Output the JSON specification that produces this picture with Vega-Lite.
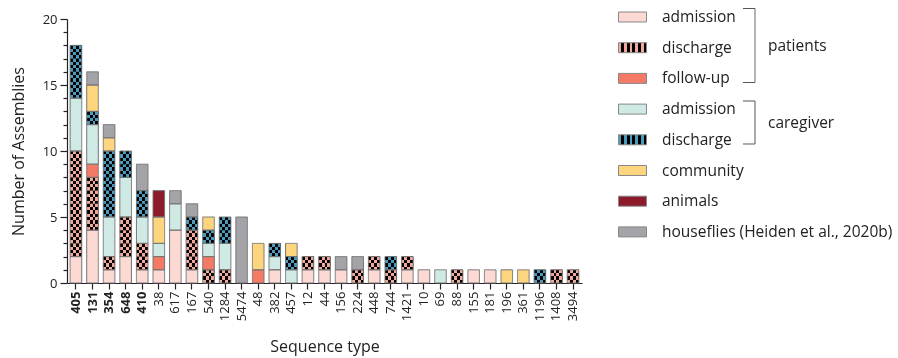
{
"$schema": "https://vega.github.io/schema/vega-lite/v6.json",
"width": 515,
"height": 264,
"autosize": {"type": "none"},
"padding": {"left": 67, "top": 19, "right": 316, "bottom": 75},
"config": {"font": "Open Sans", "view": {"stroke": null}, "axis": {"grid": false}},
"datasets": {
"categories": [
{"src":"pa","ord":1,"grp":"patients"},
{"src":"pd","ord":2,"grp":"patients"},
{"src":"pf","ord":3,"grp":"patients"},
{"src":"ca","ord":4,"grp":"caregiver"},
{"src":"cd","ord":5,"grp":"caregiver"},
{"src":"co","ord":6,"grp":"other"},
{"src":"an","ord":7,"grp":"other"},
{"src":"ho","ord":8,"grp":"other"}
],
"assemblies": [
{"st":"405","src":"pa"},{"st":"405","src":"pa"},
{"st":"405","src":"pd"},{"st":"405","src":"pd"},{"st":"405","src":"pd"},{"st":"405","src":"pd"},{"st":"405","src":"pd"},{"st":"405","src":"pd"},{"st":"405","src":"pd"},{"st":"405","src":"pd"},
{"st":"405","src":"ca"},{"st":"405","src":"ca"},{"st":"405","src":"ca"},{"st":"405","src":"ca"},
{"st":"405","src":"cd"},{"st":"405","src":"cd"},{"st":"405","src":"cd"},{"st":"405","src":"cd"},
{"st":"131","src":"pa"},{"st":"131","src":"pa"},{"st":"131","src":"pa"},{"st":"131","src":"pa"},
{"st":"131","src":"pd"},{"st":"131","src":"pd"},{"st":"131","src":"pd"},{"st":"131","src":"pd"},
{"st":"131","src":"pf"},
{"st":"131","src":"ca"},{"st":"131","src":"ca"},{"st":"131","src":"ca"},
{"st":"131","src":"cd"},
{"st":"131","src":"co"},{"st":"131","src":"co"},
{"st":"131","src":"ho"},
{"st":"354","src":"pa"},
{"st":"354","src":"pd"},
{"st":"354","src":"ca"},{"st":"354","src":"ca"},{"st":"354","src":"ca"},
{"st":"354","src":"cd"},{"st":"354","src":"cd"},{"st":"354","src":"cd"},{"st":"354","src":"cd"},{"st":"354","src":"cd"},
{"st":"354","src":"co"},
{"st":"354","src":"ho"},
{"st":"648","src":"pa"},{"st":"648","src":"pa"},
{"st":"648","src":"pd"},{"st":"648","src":"pd"},{"st":"648","src":"pd"},
{"st":"648","src":"ca"},{"st":"648","src":"ca"},{"st":"648","src":"ca"},
{"st":"648","src":"cd"},{"st":"648","src":"cd"},
{"st":"410","src":"pa"},
{"st":"410","src":"pd"},{"st":"410","src":"pd"},
{"st":"410","src":"ca"},{"st":"410","src":"ca"},
{"st":"410","src":"cd"},{"st":"410","src":"cd"},
{"st":"410","src":"ho"},{"st":"410","src":"ho"},
{"st":"38","src":"pa"},
{"st":"38","src":"pf"},
{"st":"38","src":"ca"},
{"st":"38","src":"co"},{"st":"38","src":"co"},
{"st":"38","src":"an"},{"st":"38","src":"an"},
{"st":"617","src":"pa"},{"st":"617","src":"pa"},{"st":"617","src":"pa"},{"st":"617","src":"pa"},
{"st":"617","src":"ca"},{"st":"617","src":"ca"},
{"st":"617","src":"ho"},
{"st":"167","src":"pa"},
{"st":"167","src":"pd"},{"st":"167","src":"pd"},{"st":"167","src":"pd"},
{"st":"167","src":"cd"},
{"st":"167","src":"ho"},
{"st":"540","src":"pd"},
{"st":"540","src":"pf"},
{"st":"540","src":"ca"},
{"st":"540","src":"cd"},
{"st":"540","src":"co"},
{"st":"1284","src":"pd"},
{"st":"1284","src":"ca"},{"st":"1284","src":"ca"},
{"st":"1284","src":"cd"},{"st":"1284","src":"cd"},
{"st":"5474","src":"ho"},{"st":"5474","src":"ho"},{"st":"5474","src":"ho"},{"st":"5474","src":"ho"},{"st":"5474","src":"ho"},
{"st":"48","src":"pf"},
{"st":"48","src":"co"},{"st":"48","src":"co"},
{"st":"382","src":"pa"},
{"st":"382","src":"ca"},
{"st":"382","src":"cd"},
{"st":"457","src":"ca"},
{"st":"457","src":"cd"},
{"st":"457","src":"co"},
{"st":"12","src":"pa"},{"st":"12","src":"pd"},
{"st":"44","src":"pa"},{"st":"44","src":"pd"},
{"st":"156","src":"pa"},{"st":"156","src":"ho"},
{"st":"224","src":"pd"},{"st":"224","src":"ho"},
{"st":"448","src":"pa"},{"st":"448","src":"pd"},
{"st":"744","src":"pd"},{"st":"744","src":"cd"},
{"st":"1421","src":"pa"},{"st":"1421","src":"pd"},
{"st":"10","src":"pa"},
{"st":"69","src":"ca"},
{"st":"88","src":"pd"},
{"st":"155","src":"pa"},
{"st":"181","src":"pa"},
{"st":"196","src":"co"},
{"st":"361","src":"co"},
{"st":"1196","src":"cd"},
{"st":"1408","src":"pd"},
{"st":"3494","src":"pd"}
]
},
"data": {"name": "assemblies"},
"transform": [
{"lookup": "src", "from": {"data": {"name": "categories"}, "key": "src", "fields": ["ord", "grp"]}},
{"window": [{"op": "row_number", "as": "id"}]}
],
"encoding": {
"x": {"field": "st", "type": "nominal",
"sort": ["405","131","354","648","410","38","617","167","540","1284","5474","48","382","457","12","44","156","224","448","744","1421","10","69","88","155","181","196","361","1196","1408","3494"],
"scale": {"paddingInner": 0.3, "paddingOuter": 0.19},
"axis": {"title": "Sequence type", "labelAngle": -90, "labelFontSize": 13,
"labelFontWeight": {"condition": {"test": "indexof(['405','131','354','648','410'], datum.value) >= 0", "value": "bold"}, "value": "normal"},
"tickSize": 6, "labelPadding": 2, "titleFontSize": 16, "titleFontWeight": "normal", "titlePadding": 18,
"domainColor": "#222", "tickColor": "#222", "labelColor": "#222", "titleColor": "#222", "domainWidth": 1.2, "tickWidth": 1.2}},
"y": {"aggregate": "count", "type": "quantitative", "scale": {"domain": [0, 20]},
"axis": {"title": "Number of Assemblies", "values": [0,1,2,3,4,5,6,7,8,9,10,11,12,13,14,15,16,17,18,19,20],
"labelExpr": "datum.value % 5 === 0 ? datum.label : ''",
"tickSize": {"condition": {"test": "datum.value % 5 === 0", "value": 7}, "value": 4},
"labelFontSize": 13, "labelPadding": 3, "titleFontSize": 16, "titleFontWeight": "normal", "titlePadding": 16,
"domainColor": "#222", "tickColor": "#222", "labelColor": "#222", "titleColor": "#222", "domainWidth": 1.2, "tickWidth": 1.2}},
"order": {"field": "ord", "type": "quantitative"}
},
"layer": [
{
"mark": {"type": "bar", "strokeWidth": 0},
"encoding": {
"fill": {"field": "src", "type": "nominal",
"scale": {"domain": ["pa","pd","pf","ca","cd","co","an","ho"],
"range": ["#fdd9d3","#f2a99b","#f47a66","#cfe9e4","#4a9cbf","#fdd57f","#8c1b2c","#a3a3a8"]},
"legend": null},
"opacity": {"field": "ord", "type": "ordinal",
"scale": {"domain": [1,2,3,4,5,6,7,8], "range": [1,1,1,1,1,1,1,1]},
"legend": {"title": null, "orient": "none", "legendX": 551, "legendY": -16.5, "padding": 0,
"symbolType": "M-1,-0.357H1V0.357H-1Z", "symbolSize": 784, "symbolStrokeWidth": 1, "symbolStrokeColor": "#888",
"symbolFillColor": {"expr": "datum.value == 2 ? {gradient: 'linear', x1: 0, y1: 0, x2: 1, y2: 0, stops: [{offset: 0, color: '#f2a99b'}, {offset: 0.1, color: '#f2a99b'}, {offset: 0.1, color: '#000'}, {offset: 0.2, color: '#000'}, {offset: 0.2, color: '#f2a99b'}, {offset: 0.3, color: '#f2a99b'}, {offset: 0.3, color: '#000'}, {offset: 0.4, color: '#000'}, {offset: 0.4, color: '#f2a99b'}, {offset: 0.5, color: '#f2a99b'}, {offset: 0.5, color: '#000'}, {offset: 0.6, color: '#000'}, {offset: 0.6, color: '#f2a99b'}, {offset: 0.7, color: '#f2a99b'}, {offset: 0.7, color: '#000'}, {offset: 0.8, color: '#000'}, {offset: 0.8, color: '#f2a99b'}, {offset: 0.9, color: '#f2a99b'}, {offset: 0.9, color: '#000'}, {offset: 1, color: '#000'}]} : datum.value == 5 ? {gradient: 'linear', x1: 0, y1: 0, x2: 1, y2: 0, stops: [{offset: 0, color: '#4a9cbf'}, {offset: 0.1, color: '#4a9cbf'}, {offset: 0.1, color: '#000'}, {offset: 0.2, color: '#000'}, {offset: 0.2, color: '#4a9cbf'}, {offset: 0.3, color: '#4a9cbf'}, {offset: 0.3, color: '#000'}, {offset: 0.4, color: '#000'}, {offset: 0.4, color: '#4a9cbf'}, {offset: 0.5, color: '#4a9cbf'}, {offset: 0.5, color: '#000'}, {offset: 0.6, color: '#000'}, {offset: 0.6, color: '#4a9cbf'}, {offset: 0.7, color: '#4a9cbf'}, {offset: 0.7, color: '#000'}, {offset: 0.8, color: '#000'}, {offset: 0.8, color: '#4a9cbf'}, {offset: 0.9, color: '#4a9cbf'}, {offset: 0.9, color: '#000'}, {offset: 1, color: '#000'}]} : datum.value == 1 ? '#fdd9d3' : datum.value == 3 ? '#f47a66' : datum.value == 4 ? '#cfe9e4' : datum.value == 6 ? '#fdd57f' : datum.value == 7 ? '#8c1b2c' : '#a3a3a8'"},
"labelFontSize": 15.5, "labelOffset": 15, "rowPadding": 7.7, "labelColor": "#222", "labelLimit": 400,
"labelExpr": "datum.value == 1 || datum.value == 4 ? 'admission' : datum.value == 2 || datum.value == 5 ? 'discharge' : datum.value == 3 ? 'follow-up' : datum.value == 6 ? 'community' : datum.value == 7 ? 'animals' : 'houseflies (Heiden et al., 2020b)'"
}}
}
},
{
"mark": {"type": "bar", "strokeWidth": 0},
"encoding": {
"detail": [{"field": "id", "type": "nominal"}, {"field": "src", "type": "nominal"}],
"fill": {"condition": [
{"test": "datum.src === 'pd'", "value": {"gradient": "linear", "x1": 0, "y1": 0, "x2": 1, "y2": 0, "stops": [
{"offset":0,"color":"#f2a99b"},{"offset":0.25,"color":"#f2a99b"},{"offset":0.25,"color":"#000"},{"offset":0.5,"color":"#000"},
{"offset":0.5,"color":"#f2a99b"},{"offset":0.75,"color":"#f2a99b"},{"offset":0.75,"color":"#000"},{"offset":1,"color":"#000"}]}},
{"test": "datum.src === 'cd'", "value": {"gradient": "linear", "x1": 0, "y1": 0, "x2": 1, "y2": 0, "stops": [
{"offset":0,"color":"#4a9cbf"},{"offset":0.25,"color":"#4a9cbf"},{"offset":0.25,"color":"#000"},{"offset":0.5,"color":"#000"},
{"offset":0.5,"color":"#4a9cbf"},{"offset":0.75,"color":"#4a9cbf"},{"offset":0.75,"color":"#000"},{"offset":1,"color":"#000"}]}}
], "value": "transparent"}
}
},
{
"mark": {"type": "bar", "strokeWidth": 0, "blend": "difference"},
"encoding": {
"detail": [{"field": "id", "type": "nominal"}, {"field": "src", "type": "nominal"}],
"fill": {"condition": [
{"test": "datum.src === 'pd'", "value": {"gradient": "linear", "x1": 0, "y1": 0, "x2": 0, "y2": 1, "stops": [
{"offset":0,"color":"#f2a99b"},{"offset":0.25,"color":"#f2a99b"},{"offset":0.25,"color":"#000"},{"offset":0.5,"color":"#000"},
{"offset":0.5,"color":"#f2a99b"},{"offset":0.75,"color":"#f2a99b"},{"offset":0.75,"color":"#000"},{"offset":1,"color":"#000"}]}},
{"test": "datum.src === 'cd'", "value": {"gradient": "linear", "x1": 0, "y1": 0, "x2": 0, "y2": 1, "stops": [
{"offset":0,"color":"#4a9cbf"},{"offset":0.25,"color":"#4a9cbf"},{"offset":0.25,"color":"#000"},{"offset":0.5,"color":"#000"},
{"offset":0.5,"color":"#4a9cbf"},{"offset":0.75,"color":"#4a9cbf"},{"offset":0.75,"color":"#000"},{"offset":1,"color":"#000"}]}}
], "value": "transparent"}
}
},
{
"mark": {"type": "bar", "fill": "transparent", "stroke": "#747474", "strokeWidth": 1},
"encoding": {
"detail": {"field": "src", "type": "nominal"},
"strokeDash": {"field": "grp", "type": "nominal",
"scale": {"domain": ["patients", "caregiver", "other"], "range": [[1, 0], [1, 0], [1, 0]]},
"legend": {"title": null, "orient": "none", "legendX": 650.5, "legendY": -11, "padding": 0,
"values": ["patients", "caregiver"],
"symbolType": {"expr": "datum.value === 'caregiver' ? 'M-0.324,-0.581H0V0.581H-0.324' : 'M-0.324,-1H0V1H-0.324'"},
"symbolSize": 5476, "symbolStrokeWidth": 1, "symbolStrokeColor": "#555",
"labelFontSize": 15.5, "labelOffset": -24.5, "rowPadding": -2, "labelColor": "#222"
}}
}
}
]
}
